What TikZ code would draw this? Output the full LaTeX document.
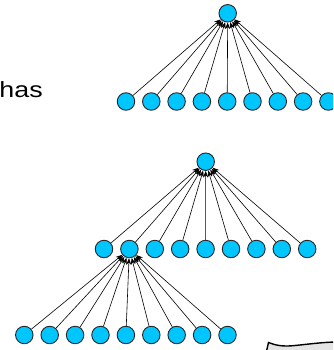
\documentclass[tikz,border=0pt]{standalone}
\usepackage{fontspec}
\setmainfont{Liberation Sans}
\usetikzlibrary{arrows.meta}
\definecolor{nodecyan}{RGB}{0,198,255}
\begin{document}
\begin{tikzpicture}[x=1pt,y=-1pt,
  vertex/.style={circle,draw=black!85,line width=0.9pt,fill=nodecyan,minimum size=17.5pt,inner sep=0pt},
  edge/.style={line width=0.6pt,-{Stealth[length=6.5pt,width=5pt]}},
  wavy/.style={line width=1.4pt,fill=black!10}]
\useasboundingbox (0,0) rectangle (333,350);
\clip (0,0) rectangle (333,350);

% caption fragment
\node[anchor=base east,inner sep=0pt,font=\fontsize{22}{26}\selectfont,xscale=1.22] (txt) at (43,97.8) {has};

% upper star: one root, nine children
\node[vertex] (a) at (227.7,13.3) {};
\foreach \i in {0,...,8} {
  \node[vertex] (a\i) at ({126+25.3*\i},101.5) {};
  \draw[edge] (a\i) -- (a);
}

% second star
\node[vertex] (b) at (205.7,161.7) {};
\foreach \i in {0,...,8} {
  \node[vertex] (b\i) at ({104+25.4*\i},249) {};
}
\foreach \i in {0,...,8} {
  \draw[edge] (b\i) -- (b);
}

% third star hanging below the second child
\foreach \i in {0,...,8} {
  \node[vertex] (c\i) at ({24.3+25.4*\i},335) {};
  \draw[edge] (c\i) -- (b1);
}

% edge of a wavy sheet in the corner
\draw[wavy] (266.3,352) -- (268.5,342.5) .. controls (275,345) and (282,347) .. (295,345.5)
  .. controls (310,344) and (320,342.5) .. (335,342) -- (335,352) -- cycle;
\end{tikzpicture}
\end{document}
